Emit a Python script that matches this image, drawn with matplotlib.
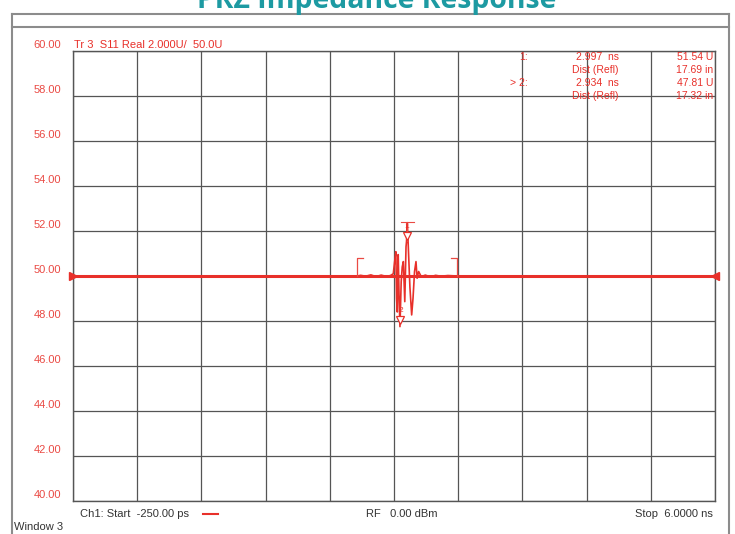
import numpy as np
import matplotlib
matplotlib.use("Agg")
import matplotlib.pyplot as plt
from matplotlib.lines import Line2D

# ---------------- data ----------------
title = "PRZ Impedance Response"
trace_label = "Tr 3  S11 Real 2.000U/  50.0U"
y_ticks = [40.0, 42.0, 44.0, 46.0, 48.0, 50.0, 52.0, 54.0, 56.0, 58.0, 60.0]
x_start_ns = -0.25
x_stop_ns = 6.0
ref_level = 50.0

# measured trace (time in ns, real impedance in U)
trace_t = [-0.25, 2.45, 2.50, 2.55, 2.60, 2.65, 2.70, 2.75, 2.80, 2.84, 2.868,
           2.880, 2.893, 2.900, 2.907, 2.916, 2.924, 2.933, 2.945, 2.955, 2.966,
           2.980, 2.992, 2.997, 3.005, 3.015, 3.030, 3.047, 3.060, 3.075, 3.089,
           3.100, 3.115, 3.140, 3.180, 3.230, 3.280, 3.330, 3.400, 3.490, 6.0]
trace_v = [50.0, 50.00, 49.98, 50.03, 49.99, 50.05, 49.97, 50.04, 49.98, 50.02, 50.10,
           50.60, 51.08, 49.00, 48.40, 50.95, 49.20, 47.75, 49.75, 50.40, 50.64,
           48.86, 51.30, 51.54, 52.34, 51.20, 49.50, 48.27, 49.00, 50.20, 50.64,
           49.90, 50.20, 49.97, 50.04, 49.96, 50.03, 49.99, 50.02, 50.0, 50.0]

gate_start_ns = 2.512
gate_stop_ns = 3.491
gate_height = 50.8

markers = [("1", 2.997, 51.54), ("2", 2.934, 47.81)]
readout_rows = [
    ("1:", "2.997  ns", "51.54 U"),
    ("", "Dist (Refl)", "17.69 in"),
    ("> 2:", "2.934  ns", "47.81 U"),
    ("", "Dist (Refl)", "17.32 in"),
]
footer_left = "Ch1: Start  -250.00 ps"
footer_mid = "RF   0.00 dBm"
footer_right = "Stop  6.0000 ns"
window_label = "Window 3"

# ---------------- style ----------------
W, H = 735, 534
RED = "#e8302a"
LRED = "#ea4a44"
GRID = "#555555"
FRAME = "#8c8c8c"
FONT = "Liberation Sans"

def fx(x):
    return x / W

def fy(y):
    return 1 - y / H

fig = plt.figure(figsize=(W / 100, H / 100), dpi=100)
fig.patch.set_facecolor("white")

# plot area in pixels
L, R, T, B = 73, 715, 51, 501
ax = fig.add_axes([fx(L), fy(B), (R - L) / W, (B - T) / H])
ax.set_xlim(x_start_ns, x_stop_ns)
ax.set_ylim(y_ticks[0], y_ticks[-1])
ax.set_xticks(np.linspace(x_start_ns, x_stop_ns, 11))
ax.set_yticks(y_ticks)
ax.tick_params(length=0, labelbottom=False, labelleft=False)
ax.grid(True, color=GRID, lw=0.9)
for s in ax.spines.values():
    s.set_color(GRID)
    s.set_linewidth(1.0)
ax.set_facecolor("white")

# reference level line and trace
ax.plot([x_start_ns, x_stop_ns], [ref_level, ref_level], color=RED, lw=2.2, zorder=3,
        solid_capstyle="butt")
ax.plot(trace_t, trace_v, color=RED, lw=1.2, zorder=4)

# reference triangles at both ends
ax.plot([x_start_ns], [ref_level], marker=">", color=RED, ms=6, clip_on=False, zorder=5)
ax.plot([x_stop_ns], [ref_level], marker="<", color=RED, ms=6, clip_on=False, zorder=5)

# gate markers
dx = 0.06
ax.plot([gate_start_ns, gate_start_ns, gate_start_ns + dx],
        [ref_level, gate_height, gate_height], color=LRED, lw=0.9, zorder=4)
ax.plot([gate_stop_ns, gate_stop_ns, gate_stop_ns - dx],
        [ref_level, gate_height, gate_height], color=LRED, lw=0.9, zorder=4)

# data markers
for name, t, v in markers:
    ax.plot([t], [v + 0.25], marker="v", ms=6, mfc="white", mec=RED, mew=0.9, zorder=6,
            linestyle="none")
    ax.text(t + 0.005, v + 0.5, name, color=RED, fontsize=6, ha="center", va="bottom",
            family=FONT, zorder=7)
# stem/cap over marker 1 peak
t1, v1 = markers[0][1], markers[0][2]
ax.plot([t1 + 0.008, t1 + 0.008], [v1, v1 + 0.85], color=LRED, lw=0.8, zorder=5)
ax.plot([t1 - 0.05, t1 + 0.07], [v1 + 0.85, v1 + 0.85], color=LRED, lw=0.8, zorder=5)

# y labels
for v in y_ticks:
    ypix = B - (v - y_ticks[0]) / (y_ticks[-1] - y_ticks[0]) * (B - T)
    fig.text(fx(61), fy(ypix - 6), f"{v:.2f}", color=LRED, fontsize=8, family=FONT,
             ha="right", va="center")

# trace label
fig.text(fx(74), fy(45), trace_label, color=RED, fontsize=8, family=FONT,
         ha="left", va="center")

# marker readout
row_y = [57, 70, 83, 96]
for (a, b, c), yy in zip(readout_rows, row_y):
    if a:
        fig.text(fx(528), fy(yy), a, color=RED, fontsize=7.5, family=FONT, ha="right", va="center")
    fig.text(fx(619), fy(yy), b, color=RED, fontsize=7.5, family=FONT, ha="right", va="center")
    fig.text(fx(713), fy(yy), c, color=RED, fontsize=7.5, family=FONT, ha="right", va="center")

# footer
fig.text(fx(80), fy(514), footer_left, color="#333333", fontsize=8, family=FONT,
         ha="left", va="center")
fig.add_artist(Line2D([fx(203), fx(218)], [fy(514), fy(514)], color=RED, lw=1.5,
                      transform=fig.transFigure))
fig.text(fx(366), fy(514), footer_mid, color="#333333", fontsize=8, family=FONT,
         ha="left", va="center")
fig.text(fx(713), fy(514), footer_right, color="#333333", fontsize=8, family=FONT,
         ha="right", va="center")
fig.text(fx(14), fy(527), window_label, color="#333333", fontsize=8, family=FONT,
         ha="left", va="center")

# outer window frame
for xs, ys in [((12, 729), (14, 14)), ((12, 729), (27, 27)),
               ((12, 12), (14, 534)), ((729, 729), (14, 534))]:
    fig.add_artist(Line2D([fx(xs[0]), fx(xs[1])], [fy(ys[0]), fy(ys[1])], color=FRAME,
                          lw=1.5, transform=fig.transFigure))

# title (cut at top, as in reference) - fit to target width
tt = fig.text(fx(377), fy(8), title, color="#1d9aa2", fontsize=16, fontweight="bold",
              family="Open Sans", ha="center", va="baseline")
fig.canvas.draw()
w = tt.get_window_extent().width
tt.set_fontsize(16 * 361 / w)

fig.savefig("out.png", dpi=100)
